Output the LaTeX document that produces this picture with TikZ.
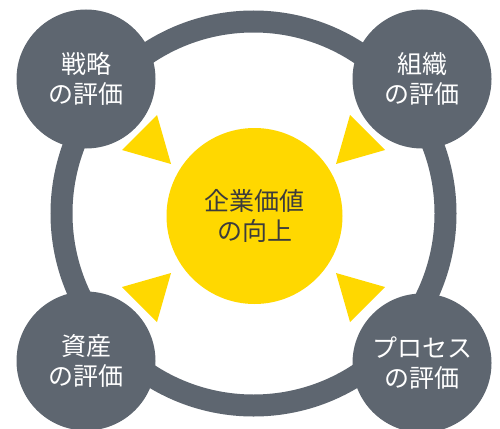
\documentclass[tikz,border=0pt]{standalone}
\usepackage{fontspec}
\newfontfamily\jp{Noto Sans CJK JP}
\definecolor{ringgray}{HTML}{5E6670}
\definecolor{gold}{HTML}{FFD800}
\definecolor{darktext}{HTML}{3C3C3C}
\begin{document}
\begin{tikzpicture}[x=1pt,y=-1pt,
  sat/.style={circle,fill=ringgray,minimum size=139pt,inner sep=0pt,text=white,align=center,
    font=\jp\fontsize{25}{30}\selectfont},
  core/.style={circle,fill=gold,minimum size=176pt,inner sep=0pt,text=darktext,align=center,
    font=\jp\fontsize{25}{30}\selectfont},
  tri/.style={fill=gold}]
\useasboundingbox (0,0) rectangle (500,428);
\coordinate (rc) at (253.5,213.5);
\draw[ringgray,line width=22pt] (rc) circle[radius=192pt];
\node[sat] (tl) at (86,79) {戦略\\の評価};
\node[sat] (tr) at (422,79) {組織\\の評価};
\node[sat] (bl) at (86,361) {資産\\の評価};
\node[sat] (br) at (422,363) {プロセス\\の評価};
\node[core] (c) at (254.5,216) {企業価値\\の向上};
\fill[tri] (157,115) -- (122,150) -- (171,164) -- cycle;
\fill[tri] (350,115) -- (385,150) -- (336,164) -- cycle;
\fill[tri] (157,322) -- (122,287) -- (171,273) -- cycle;
\fill[tri] (350,322) -- (385,287) -- (336,273) -- cycle;
\end{tikzpicture}
\end{document}
